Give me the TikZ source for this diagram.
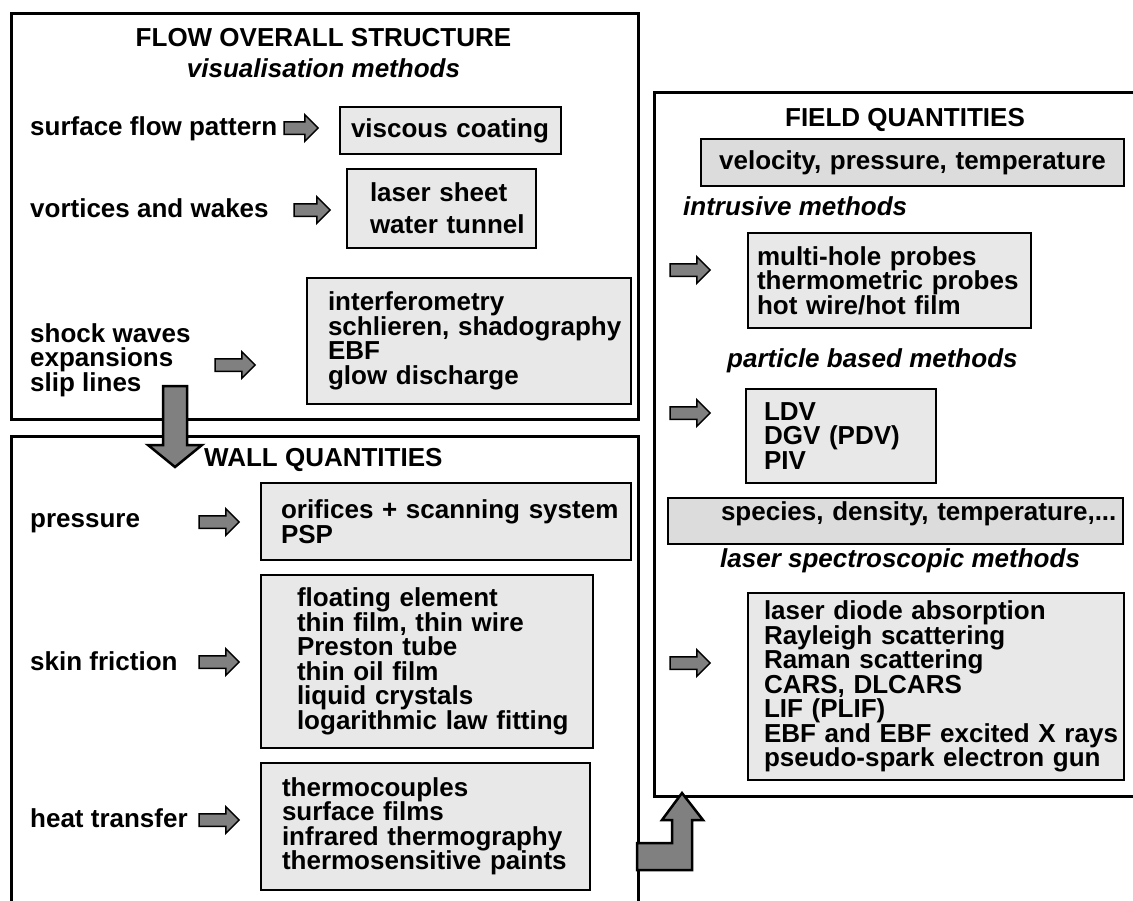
\documentclass[tikz,border=0pt]{standalone}
\usepackage{fontspec}
\setmainfont{Liberation Sans}
\usetikzlibrary{shapes.arrows}
\setlength{\lineskiplimit}{-30pt}
\hyphenpenalty=10000
\exhyphenpenalty=10000
\definecolor{boxgray}{HTML}{E8E8E8}
\definecolor{boxdark}{HTML}{DCDCDC}
\definecolor{arrowgray}{HTML}{808080}
\tikzset{
  txt/.style={font=\fontsize{26}{24.5}\selectfont\bfseries, inner sep=0pt},
  ital/.style={txt, font=\fontsize{26}{24.5}\selectfont\bfseries\itshape},
  outerbox/.style={draw=black, line width=3pt, inner sep=0pt, anchor=north west},
  listbox/.style={txt, draw=black, fill=boxgray, line width=2pt, anchor=north west, align=left, inner ysep=0pt},
  blockarrow/.style={single arrow, draw=black, fill=arrowgray, line width=1.5pt, minimum height=#1, minimum width=0pt, inner xsep=0pt, inner ysep=5.5pt, single arrow head extend=7pt, single arrow tip angle=90, single arrow head indent=0pt},
  bigarrow/.style={draw=black, fill=arrowgray, line width=2.5pt, line join=miter},
}
\begin{document}
\begin{tikzpicture}[x=1pt,y=-1pt]
\useasboundingbox (0,0) rectangle (1133,900);
% outer frames
\node[outerbox, minimum width=627, minimum height=406] (flowbox) at (10,12) {};
\node[outerbox, minimum width=627, minimum height=480] (wallbox) at (10,435) {};
\node[outerbox, minimum width=500, minimum height=704] (fieldbox) at (653,91) {};

% ---------------- flow overall structure
\node[txt, anchor=base] (flowtitle) at (323.5,46) {FLOW OVERALL STRUCTURE};
\node[ital, anchor=base] (flowsub) at (323.5,77) {visualisation methods};

\node[txt, anchor=base west] (surf) at (30,135) {surface flow pattern};
\node[blockarrow=34] (a1) at (298,128) {};
\node[listbox, text width=221-22, inner xsep=11, minimum height=47] (visc) at (339,106) {viscous~coating};

\node[txt, anchor=base west] (vort) at (30,217) {vortices and wakes};
\node[blockarrow=36] (a2) at (309,210) {};
\node[listbox, text width=189-46, inner xsep=23, minimum height=79] (lsheet) at (346,168) {laser~sheet\\[7.5pt]water~tunnel};

\node[txt, anchor=west, align=left] (shock) at (30,360) {shock waves\\expansions\\slip lines};
\node[blockarrow=40] (a3) at (232,365) {};
\node[listbox, text width=324-42, inner xsep=21, minimum height=126] (interf) at (306,277) {interferometry\\schlieren,~shadography\\EBF\\glow~discharge};

\draw[bigarrow] (163,386) -- (187,386) -- (187,445) -- (202,445) -- (175,467) -- (148,445) -- (163,445) -- cycle;

% ---------------- wall quantities
\node[txt, anchor=base west] (walltitle) at (204,466) {WALL QUANTITIES};

\node[txt, anchor=base west] (press) at (30,527) {pressure};
\node[blockarrow=40] (a4) at (216,522) {};
\node[listbox, text width=370-40, inner xsep=20, minimum height=77] (pbox) at (260,482) {orifices~+~scanning~system\\PSP};

\node[txt, anchor=base west] (skin) at (30,670) {skin friction};
\node[blockarrow=40] (a5) at (216,662) {};
\node[listbox, text width=332-72, inner xsep=36, minimum height=173] (sbox) at (260,574) {floating~element\\thin~film,~thin~wire\\Preston~tube\\thin~oil~film\\liquid~crystals\\logarithmic~law~fitting};

\node[txt, anchor=base west] (heat) at (30,827) {heat transfer};
\node[blockarrow=40] (a6) at (216,820) {};
\node[listbox, text width=329-42, inner xsep=21, minimum height=127] (hbox) at (260,762) {thermocouples\\surface~films\\infrared~thermography\\thermosensitive~paints};

% ---------------- field quantities
\node[txt, anchor=base] (fieldtitle) at (905,126) {FIELD QUANTITIES};
\node[listbox, fill=boxdark, align=center, text width=423-20, inner xsep=10, minimum height=47] (vel) at (700,138) {velocity,~pressure,~temperature};

\node[ital, anchor=base west] (intr) at (683,215) {intrusive methods};
\node[blockarrow=40] (a7) at (687,270) {};
\node[listbox, text width=283-18, inner xsep=9, minimum height=95] (mbox) at (747,232) {multi-hole~probes\\thermometric~probes\\hot~wire/hot~film};

\node[ital, anchor=base west] (part) at (727,367) {particle based methods};
\node[blockarrow=40] (a8) at (687,413) {};
\node[listbox, text width=190-36, inner xsep=18, minimum height=94] (ldv) at (745,388) {LDV\\DGV~(PDV)\\PIV};

\node[listbox, fill=boxdark, text width=455-106, inner xsep=53, minimum height=46, text height=19pt, text depth=21pt] (spec) at (667,497) {species,~density,~temperature,...};

\node[ital, anchor=base west] (lasm) at (720,567) {laser spectroscopic methods};
\node[blockarrow=40] (a9) at (687,663) {};
\node[listbox, text width=376-32, inner xsep=16, minimum height=187] (lbox) at (747,592) {laser~diode~absorption\\Rayleigh~scattering\\Raman~scattering\\CARS,~DLCARS\\LIF~(PLIF)\\EBF~and~EBF~excited~X~rays\\pseudo-spark~electron~gun};

\draw[bigarrow] (637,843) -- (672,843) -- (672,820) -- (662,820) -- (682,793) -- (703,820) -- (692,820) -- (692,870) -- (637,870) -- cycle;
\end{tikzpicture}
\end{document}
